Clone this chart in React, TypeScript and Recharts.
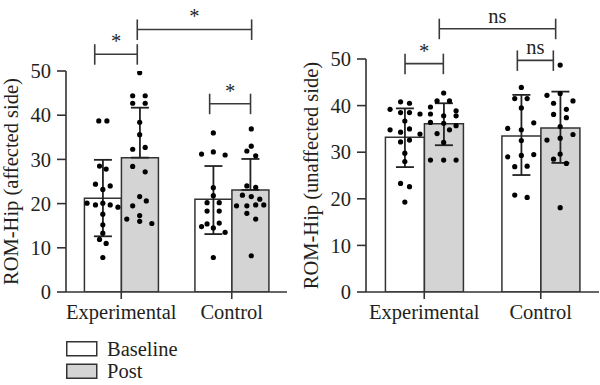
import React from 'react';
import {
  ComposedChart, Bar, ErrorBar, Scatter, XAxis, YAxis, ReferenceLine, Legend,
} from 'recharts';

// ---------- data ----------
const groups = ['Experimental', 'Control'];
const yTicks = [0, 10, 20, 30, 40, 50];

// Affected side (left panel)
const affBaseMean = [21.2, 21.0];
const affBaseErr = [[8.6, 8.7], [7.9, 7.5]];
const affPostMean = [30.4, 23.1];
const affPostErr = [[0, 11.3], [0, 7.0]];

// dots: [jitter (in bar widths), value]
const affExpBaseDots = [[-0.11, 38.7], [0.11, 38.7], [-0.09, 28.5], [0.09, 27.8], [-0.2, 24.4], [0, 23.2], [0.2, 24.0], [-0.43, 20.1], [-0.2, 19.7], [0, 20.1], [0.2, 19.7], [0.41, 19.2], [0, 17.6], [0, 15.2], [0, 13.3], [-0.09, 11.9], [0.09, 11.0], [0, 7.8]];
const affExpPostDots = [[0, 49.6], [-0.19, 44.4], [0.15, 44.4], [-0.19, 42.7], [0.15, 42.7], [0, 38.4], [0, 35.6], [-0.19, 32.3], [0.15, 32.7], [-0.19, 28.4], [0.15, 27.2], [0, 21.6], [0.18, 20.6], [-0.19, 19.5], [0, 17.3], [-0.35, 16.5], [0, 16.0], [0.33, 15.5]];
const affCtrlBaseDots = [[0, 36.0], [-0.32, 31.2], [0, 31.7], [0.32, 31.0], [0, 23.6], [0, 21.8], [-0.17, 20.2], [0.16, 20.2], [-0.17, 18.3], [0.16, 18.3], [-0.32, 14.8], [-0.17, 15.4], [0, 14.5], [0.16, 15.6], [0.32, 13.5], [0, 7.8]];
const affCtrlPostDots = [[0.03, 36.9], [-0.09, 31.9], [0.03, 33.0], [0.15, 30.8], [-0.09, 24.0], [0.15, 23.7], [-0.21, 21.9], [0.03, 21.6], [0.26, 21.0], [-0.37, 19.5], [-0.09, 19.5], [0.15, 19.7], [0.37, 19.7], [-0.09, 17.8], [0.15, 16.5], [0.03, 8.2]];

// Unaffected side (right panel)
const unBaseMean = [33.2, 33.5];
const unBaseErr = [[6.4, 6.2], [8.4, 8.8]];
const unPostMean = [36.1, 35.2];
const unPostErr = [[4.6, 4.4], [7.5, 7.8]];

const unExpBaseDots = [[-0.38, 39.2], [-0.11, 40.8], [0.12, 40.5], [-0.11, 38.5], [0.12, 38.5], [0.39, 38.2], [0, 36.7], [-0.38, 34.8], [-0.11, 34.3], [0.12, 35.0], [0.39, 33.9], [-0.11, 32.2], [0.12, 32.6], [0, 29.8], [0, 28.0], [-0.11, 23.3], [0.12, 22.6], [0, 19.3]];
const unExpPostDots = [[0, 42.7], [-0.17, 41.0], [0.15, 41.0], [-0.34, 39.7], [0.32, 38.9], [-0.34, 38.2], [0, 37.8], [0.32, 37.8], [-0.34, 36.4], [0, 36.2], [0.32, 35.7], [0.15, 34.8], [-0.17, 34.0], [0, 32.1], [-0.34, 28.3], [0, 28.3], [0.32, 28.3]];
const unCtrlBaseDots = [[0, 43.9], [-0.17, 41.5], [0.15, 41.5], [0, 39.5], [-0.35, 35.1], [0.32, 36.3], [0, 34.8], [0, 32.5], [-0.35, 29.0], [0, 29.3], [0.32, 29.5], [-0.17, 26.9], [0.15, 27.0], [-0.17, 20.8], [0.15, 20.3]];
const unCtrlPostDots = [[0, 48.7], [-0.34, 42.2], [0, 42.6], [0.33, 41.0], [-0.17, 40.5], [0.16, 39.2], [-0.17, 38.1], [0.16, 37.4], [0, 35.5], [-0.34, 32.6], [0.33, 33.8], [0, 33.0], [0, 29.6], [-0.17, 28.5], [0.16, 27.6], [0, 18.1]];

// significance brackets: x in category units (0..2), y in value units
const affBrackets = [
  { x1: 0.26, x2: 0.645, y: 53.8, label: '*' },
  { x1: 0.645, x2: 1.68, y: 59.4, label: '*' },
  { x1: 1.3, x2: 1.67, y: 42.6, label: '*' },
];
const unBrackets = [
  { x1: 0.335, x2: 0.664, y: 49.0, label: '*' },
  { x1: 0.629, x2: 1.628, y: 56.5, label: 'ns' },
  { x1: 1.299, x2: 1.608, y: 49.7, label: 'ns' },
];

// ---------- styles ----------
const FONT = '"Liberation Serif", "Times New Roman", serif';
const TEXT = '#231f20';
const LINE = '#333333';
const FS = 20.5;
const POST_FILL = '#d4d4d4';

const buildBars = (bm, be, pm, pe) =>
  groups.map((g, i) => ({ group: g, base: bm[i], baseErr: be[i], post: pm[i], postErr: pe[i] }));

const buildDots = (lists) => {
  const out = [];
  lists.forEach(([gi, slot, dots]) => {
    dots.forEach(([j, v]) => {
      out.push({ x: gi + (slot === 0 ? 1 / 3 : 2 / 3) + j / 3, y: v });
    });
  });
  return out;
};

const Dot = (p) => <circle cx={p.cx} cy={p.cy} r={2.6} fill="#000" />;

const bracketShape = (p) => (
  <g stroke="#3a3a3a" strokeWidth={1.6} fill="none">
    <line x1={p.x1} y1={p.y1} x2={p.x2} y2={p.y2} />
    <line x1={p.x1} y1={p.y1 - 10} x2={p.x1} y2={p.y1 + 10.5} />
    <line x1={p.x2} y1={p.y2 - 10} x2={p.x2} y2={p.y2 + 10.5} />
  </g>
);

const LegendContent = (props) => {
  const items = (props.payload || []).filter((e) => e.type !== 'none');
  return (
    <svg width={160} height={48} style={{ display: 'block', overflow: 'visible' }}>
      {items.map((e, i) => (
        <g key={e.value}>
          <rect x={0.75} y={5.75 + i * 22.5} width={30} height={14} fill={e.color} stroke={LINE} strokeWidth={1.5} />
          <text x={41} y={19.5 + i * 22.5} fill={TEXT} fontSize={FS} fontFamily={FONT}>{e.value}</text>
        </g>
      ))}
    </svg>
  );
};

function Panel({ bars, dots, brackets, yLabel, width, height, margin, showLegend }) {
  return (
    <ComposedChart
      width={width}
      height={height}
      data={bars}
      margin={margin}
      barCategoryGap="16.67%"
      barGap={0}
    >
      <XAxis
        xAxisId="c"
        dataKey="group"
        tickSize={7}
        tickMargin={5}
        height={32}
        axisLine={{ stroke: LINE, strokeWidth: 1.6 }}
        tickLine={{ stroke: LINE, strokeWidth: 1.6 }}
        tick={{ fill: TEXT, fontSize: FS, fontFamily: FONT }}
        interval={0}
      />
      <XAxis xAxisId="d" type="number" dataKey="x" domain={[0, 2]} allowDataOverflow hide />
      <YAxis
        width={66}
        domain={[0, 50]}
        ticks={yTicks}
        allowDataOverflow
        tickSize={9}
        tickMargin={6}
        axisLine={{ stroke: LINE, strokeWidth: 1.6 }}
        tickLine={{ stroke: LINE, strokeWidth: 1.6 }}
        tick={{ fill: TEXT, fontSize: FS, fontFamily: FONT }}
        label={{
          value: yLabel, angle: -90, position: 'center', dx: -22,
          style: { fill: TEXT, fontSize: FS, fontFamily: FONT, textAnchor: 'middle' },
        }}
      />
      <Bar xAxisId="c" dataKey="base" name="Baseline" fill="#ffffff" stroke={LINE} strokeWidth={1.5} isAnimationActive={false}>
        <ErrorBar dataKey="baseErr" direction="y" width={9} stroke="#222" strokeWidth={1.8} />
      </Bar>
      <Bar xAxisId="c" dataKey="post" name="Post" fill={POST_FILL} stroke={LINE} strokeWidth={1.5} isAnimationActive={false}>
        <ErrorBar dataKey="postErr" direction="y" width={9} stroke="#222" strokeWidth={1.8} />
      </Bar>
      <Scatter xAxisId="d" data={dots} dataKey="y" shape={Dot} isAnimationActive={false} legendType="none" />
      {brackets.map((b, i) => (
        <ReferenceLine
          key={i}
          xAxisId="d"
          segment={[{ x: b.x1, y: b.y }, { x: b.x2, y: b.y }]}
          ifOverflow="visible"
          shape={bracketShape}
          label={{ value: b.label, position: 'top', offset: 6, fill: TEXT, fontSize: FS, fontFamily: FONT }}
        />
      ))}
      {showLegend && (
        <Legend
          layout="vertical"
          align="center"
          verticalAlign="middle"
          content={LegendContent}
          wrapperStyle={{ left: 66, top: 336, width: 160, height: 48 }}
        />
      )}
    </ComposedChart>
  );
}

const affBars = buildBars(affBaseMean, affBaseErr, affPostMean, affPostErr);
const unBars = buildBars(unBaseMean, unBaseErr, unPostMean, unPostErr);
const affDots = buildDots([[0, 0, affExpBaseDots], [0, 1, affExpPostDots], [1, 0, affCtrlBaseDots], [1, 1, affCtrlPostDots]]);
const unDots = buildDots([[0, 0, unExpBaseDots], [0, 1, unExpPostDots], [1, 0, unCtrlBaseDots], [1, 1, unCtrlPostDots]]);

export default function App() {
  return (
    <div style={{ position: 'absolute', left: 0, top: 0, width: 600, height: 385, background: '#fff', overflow: 'hidden' }}>
      <div style={{ position: 'absolute', left: 0, top: 0 }}>
        <Panel
          bars={affBars}
          dots={affDots}
          brackets={affBrackets}
          yLabel="ROM-Hip (affected side)"
          width={300}
          height={385}
          margin={{ top: 71, right: 13, bottom: 61, left: 0 }}
          showLegend
        />
      </div>
      <div style={{ position: 'absolute', left: 300, top: 0 }}>
        <Panel
          bars={unBars}
          dots={unDots}
          brackets={unBrackets}
          yLabel="ROM-Hip (unaffected side)"
          width={300}
          height={330}
          margin={{ top: 59, right: 1, bottom: 6, left: 0 }}
        />
      </div>
    </div>
  );
}
